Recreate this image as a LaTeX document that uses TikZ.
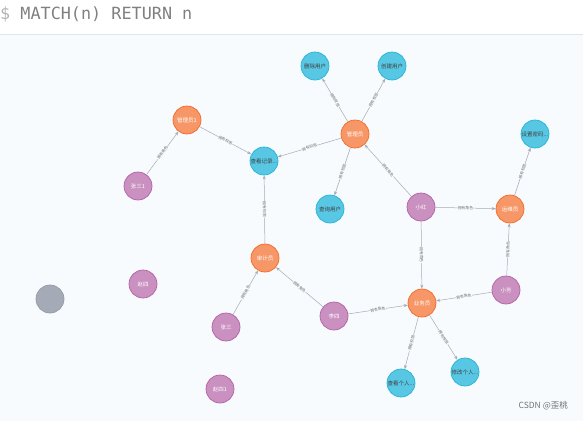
\documentclass[tikz,border=0pt]{standalone}
\usepackage{fontspec}
\setmonofont{DejaVu Sans Mono}
\newfontfamily\cjk{Noto Sans CJK SC}
\usetikzlibrary{arrows.meta}
\definecolor{bgc}{HTML}{F8FBFE}
\definecolor{linec}{HTML}{A5ABB6}
\definecolor{orgf}{HTML}{F79767}
\definecolor{orgd}{HTML}{F36924}
\definecolor{bluf}{HTML}{57C7E3}
\definecolor{blud}{HTML}{23B3D7}
\definecolor{purf}{HTML}{C990C0}
\definecolor{purd}{HTML}{B261A5}
\tikzset{
  nd/.style={circle, minimum size=28pt, inner sep=0pt, line width=0.7pt, font=\cjk\fontsize{5.5}{5.5}\selectfont},
  role/.style={nd, fill=orgf, draw=orgd, text=white},
  perm/.style={nd, fill=bluf, draw=blud, text=black!75},
  user/.style={nd, fill=purf, draw=purd, text=white},
  rel/.style={draw=linec, line width=0.5pt, -{Stealth[length=4pt,width=3pt]}},
  elabel/.style={midway, sloped, fill=bgc, inner sep=0.4pt, text=black!55, font=\cjk\fontsize{3.8}{3.8}\selectfont}
}
\begin{document}
\begin{tikzpicture}[x=1pt,y=-1pt]
\useasboundingbox (0,0) rectangle (583,421);
\fill[bgc] (0,34) rectangle (583,421);
\draw[color={rgb,255:red,221;green,229;blue,238}, line width=0.8pt] (0,34) -- (583,34);
\node[anchor=west, inner sep=0pt, font=\ttfamily\fontsize{16.8}{16.8}\selectfont, text=black!50] (query) at (0,14)
  {\textcolor{black!30}{\$} MATCH(n) RETURN n};
% roles
\node[role] (r1) at (187,120) {管理员1};
\node[role] (r2) at (355,134) {管理员};
\node[role] (r3) at (510,209) {运维员};
\node[role] (r4) at (265,258) {审计员};
\node[role] (r5) at (422,303) {业务员};
% permissions
\node[perm] (p1) at (264,161) {查看记录...};
\node[perm] (p2) at (315,66) {删除用户};
\node[perm] (p3) at (392,66) {创建用户};
\node[perm] (p4) at (330,209) {查询用户};
\node[perm] (p5) at (535,134) {设置密码...};
\node[perm] (p6) at (401,383) {查看个人...};
\node[perm] (p7) at (465,372) {修改个人...};
% users
\node[user] (u1) at (138,186) {张三1};
\node[user] (u2) at (421,207) {小红};
\node[user] (u3) at (226,327) {张三};
\node[user] (u4) at (334,316) {李四};
\node[user] (u5) at (506,290) {小芳};
\node[user] (u6) at (143,284) {赵四};
\node[user] (u7) at (220,389) {赵四1};
\node[nd, fill=linec, draw=linec!90!black] (n0) at (50,299) {};
% relations
\draw[rel] (u1) -- node[elabel]{拥有角色} (r1);
\draw[rel] (r1) -- node[elabel]{拥有权限} (p1);
\draw[rel] (r2) -- node[elabel]{拥有权限} (p1);
\draw[rel] (r2) -- node[elabel]{拥有权限} (p2);
\draw[rel] (r2) -- node[elabel]{拥有权限} (p3);
\draw[rel] (r2) -- node[elabel]{拥有权限} (p4);
\draw[rel] (u2) -- node[elabel]{拥有角色} (r2);
\draw[rel] (u2) -- node[elabel]{拥有角色} (r3);
\draw[rel] (u2) -- node[elabel]{拥有角色} (r5);
\draw[rel] (r3) -- node[elabel]{拥有权限} (p5);
\draw[rel] (r4) -- node[elabel]{拥有权限} (p1);
\draw[rel] (u3) -- node[elabel]{拥有角色} (r4);
\draw[rel] (u4) -- node[elabel]{拥有角色} (r4);
\draw[rel] (u4) -- node[elabel]{拥有角色} (r5);
\draw[rel] (u5) -- node[elabel]{拥有角色} (r5);
\draw[rel] (u5) -- node[elabel]{拥有角色} (r3);
\draw[rel] (r5) -- node[elabel]{拥有权限} (p6);
\draw[rel] (r5) -- node[elabel]{拥有权限} (p7);
\node[anchor=east, inner sep=0pt, text=black!55, font=\cjk\fontsize{8.5}{8.5}\selectfont] (mark) at (568,406) {CSDN @歪桃};
\end{tikzpicture}
\end{document}
